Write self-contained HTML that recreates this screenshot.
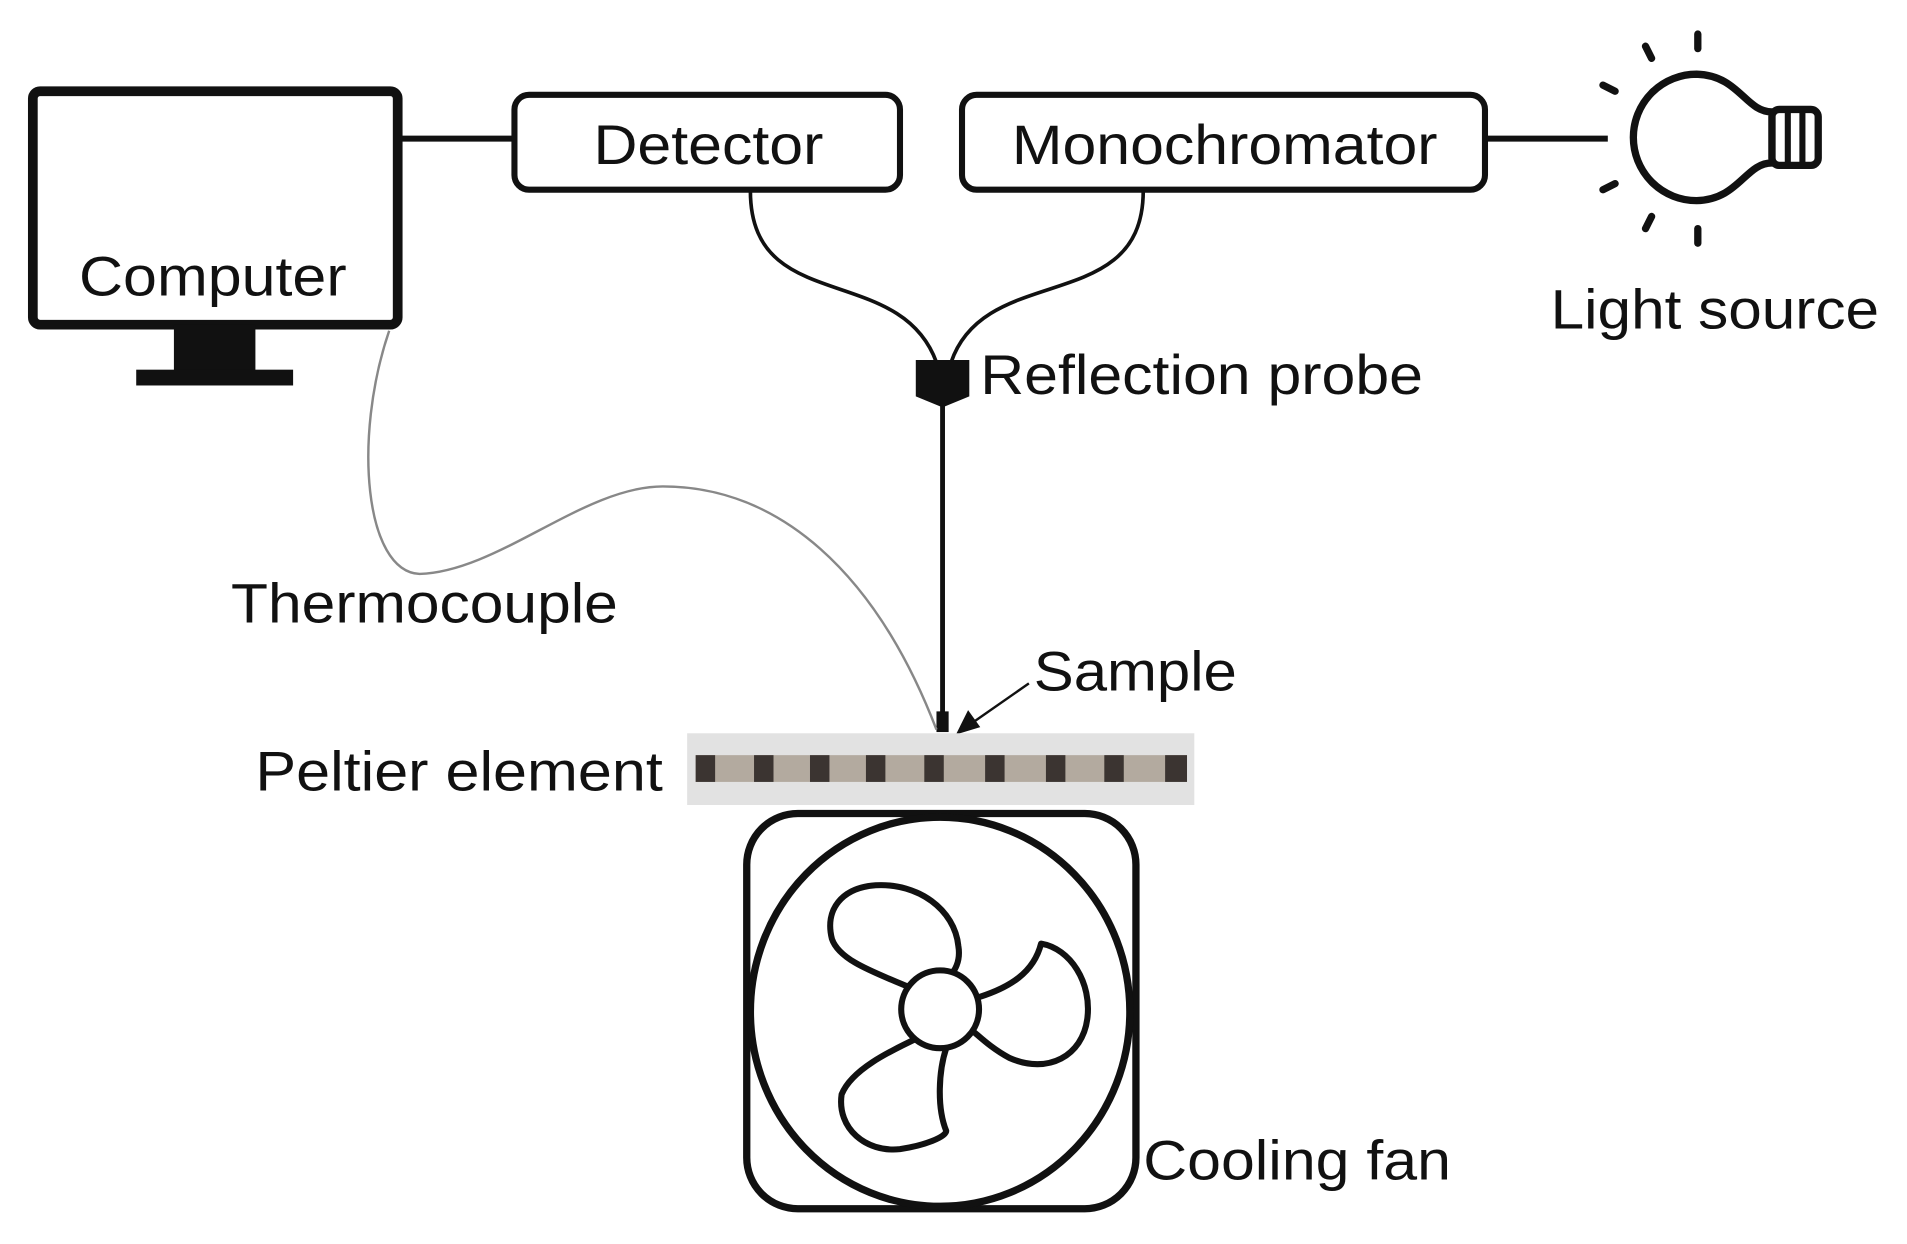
<!DOCTYPE html>
<html><head><meta charset="utf-8"><style>
html,body{margin:0;padding:0;background:#fff;}
svg{display:block;}
text{font-family:"Liberation Sans",sans-serif;fill:#111;}
</style></head><body>
<svg width="1907" height="1244" viewBox="0 0 1568 1023" preserveAspectRatio="none" xmlns="http://www.w3.org/2000/svg">
<!-- Computer -->
<rect x="27" y="75" width="300" height="192" rx="6" fill="#fff" stroke="#111" stroke-width="8"/>
<rect x="143" y="267" width="67" height="40" fill="#111"/>
<rect x="112" y="304" width="129" height="13" fill="#111"/>
<text x="65" y="243" font-size="46" textLength="220" lengthAdjust="spacingAndGlyphs">Computer</text>
<line x1="328" y1="114" x2="424" y2="114" stroke="#111" stroke-width="5"/>
<!-- Detector -->
<rect x="423" y="78" width="317" height="78" rx="12" fill="#fff" stroke="#111" stroke-width="5"/>
<text x="488" y="135" font-size="46" textLength="189" lengthAdjust="spacingAndGlyphs">Detector</text>
<!-- Monochromator -->
<rect x="791" y="78" width="430" height="78" rx="12" fill="#fff" stroke="#111" stroke-width="5"/>
<text x="832" y="135" font-size="46" textLength="350" lengthAdjust="spacingAndGlyphs">Monochromator</text>
<line x1="1222" y1="114" x2="1322" y2="114" stroke="#111" stroke-width="5"/>
<!-- Bulb -->
<path d="M1457,92 C1435,92 1430,62 1395,61 A52,52 0 1 0 1395,165 C1430,164 1435,134 1457,134 Z" fill="#fff" stroke="#111" stroke-width="6"/>
<rect x="1457" y="90" width="38" height="46" rx="6" fill="#fff" stroke="#111" stroke-width="6"/>
<line x1="1470" y1="92" x2="1470" y2="134" stroke="#111" stroke-width="5"/>
<line x1="1482" y1="92" x2="1482" y2="134" stroke="#111" stroke-width="5"/>
<g stroke="#111" stroke-width="6" stroke-linecap="round">
<line x1="1396" y1="28" x2="1396" y2="40"/>
<line x1="1396" y1="188" x2="1396" y2="200"/>
<line x1="1353" y1="38" x2="1358" y2="48"/>
<line x1="1353" y1="188" x2="1358" y2="178"/>
<line x1="1318" y1="70" x2="1328" y2="75"/>
<line x1="1318" y1="156" x2="1328" y2="151"/>
</g>
<text x="1275" y="270" font-size="46" textLength="270" lengthAdjust="spacingAndGlyphs">Light source</text>
<!-- Fibers -->
<path d="M617,157 C617,260 740,215 770,298" fill="none" stroke="#111" stroke-width="3"/>
<path d="M940,157 C940,260 810,215 782,298" fill="none" stroke="#111" stroke-width="3"/>
<path d="M753,296 L797,296 L797,326 L775,335 L753,326 Z" fill="#111"/>
<line x1="775" y1="332" x2="775" y2="592" stroke="#111" stroke-width="4"/>
<rect x="770" y="585" width="10" height="17" fill="#111"/>
<text x="806" y="324" font-size="46" textLength="364" lengthAdjust="spacingAndGlyphs">Reflection probe</text>
<!-- Thermocouple -->
<path d="M320,272 C290,360 300,470 345,472 C410,470 480,400 545,400 C640,400 720,470 770,600" fill="none" stroke="#888" stroke-width="2"/>
<text x="190" y="512" font-size="46" textLength="318" lengthAdjust="spacingAndGlyphs">Thermocouple</text>
<!-- Sample -->
<text x="850" y="568" font-size="46" textLength="167" lengthAdjust="spacingAndGlyphs">Sample</text>
<line x1="846" y1="562" x2="800" y2="594" stroke="#111" stroke-width="2"/>
<path d="M786,604 L796,584 L806,598 Z" fill="#111"/>
<!-- Peltier -->
<rect x="565" y="603" width="417" height="59" fill="#e2e2e2"/>
<rect x="572" y="621" width="404" height="22" fill="#b3aa9f"/>
<g fill="#3b3431">
<rect x="572" y="621" width="16" height="22"/><rect x="620" y="621" width="16" height="22"/><rect x="666" y="621" width="16" height="22"/><rect x="712" y="621" width="16" height="22"/><rect x="760" y="621" width="16" height="22"/><rect x="810" y="621" width="16" height="22"/><rect x="860" y="621" width="16" height="22"/><rect x="908" y="621" width="16" height="22"/><rect x="958" y="621" width="18" height="22"/>
</g>
<text x="210" y="650" font-size="46" textLength="335" lengthAdjust="spacingAndGlyphs">Peltier element</text>
<!-- Fan -->
<rect x="614" y="669" width="320" height="325" rx="42" fill="#fff" stroke="#111" stroke-width="6"/>
<ellipse cx="773" cy="832" rx="156" ry="160" fill="none" stroke="#111" stroke-width="6"/>
<g fill="none" stroke="#111" stroke-width="5" stroke-linejoin="round">
<path d="M748,812 C720,800 690,790 684,772 C678,748 692,730 720,728 C755,726 785,748 788,778 C790,790 785,800 780,802"/>
<path d="M805,820 C830,812 850,800 856,776 C880,780 898,808 894,838 C890,868 862,884 830,870 C815,862 805,852 800,848"/>
<path d="M758,852 C730,865 700,880 692,900 C688,928 712,948 740,945 C760,942 778,935 778,930 C770,910 772,880 778,862"/>
</g>
<circle cx="773" cy="830" r="32" fill="#fff" stroke="#111" stroke-width="5"/>
<text x="940" y="970" font-size="46" textLength="253" lengthAdjust="spacingAndGlyphs">Cooling fan</text>
</svg>
</body></html>
